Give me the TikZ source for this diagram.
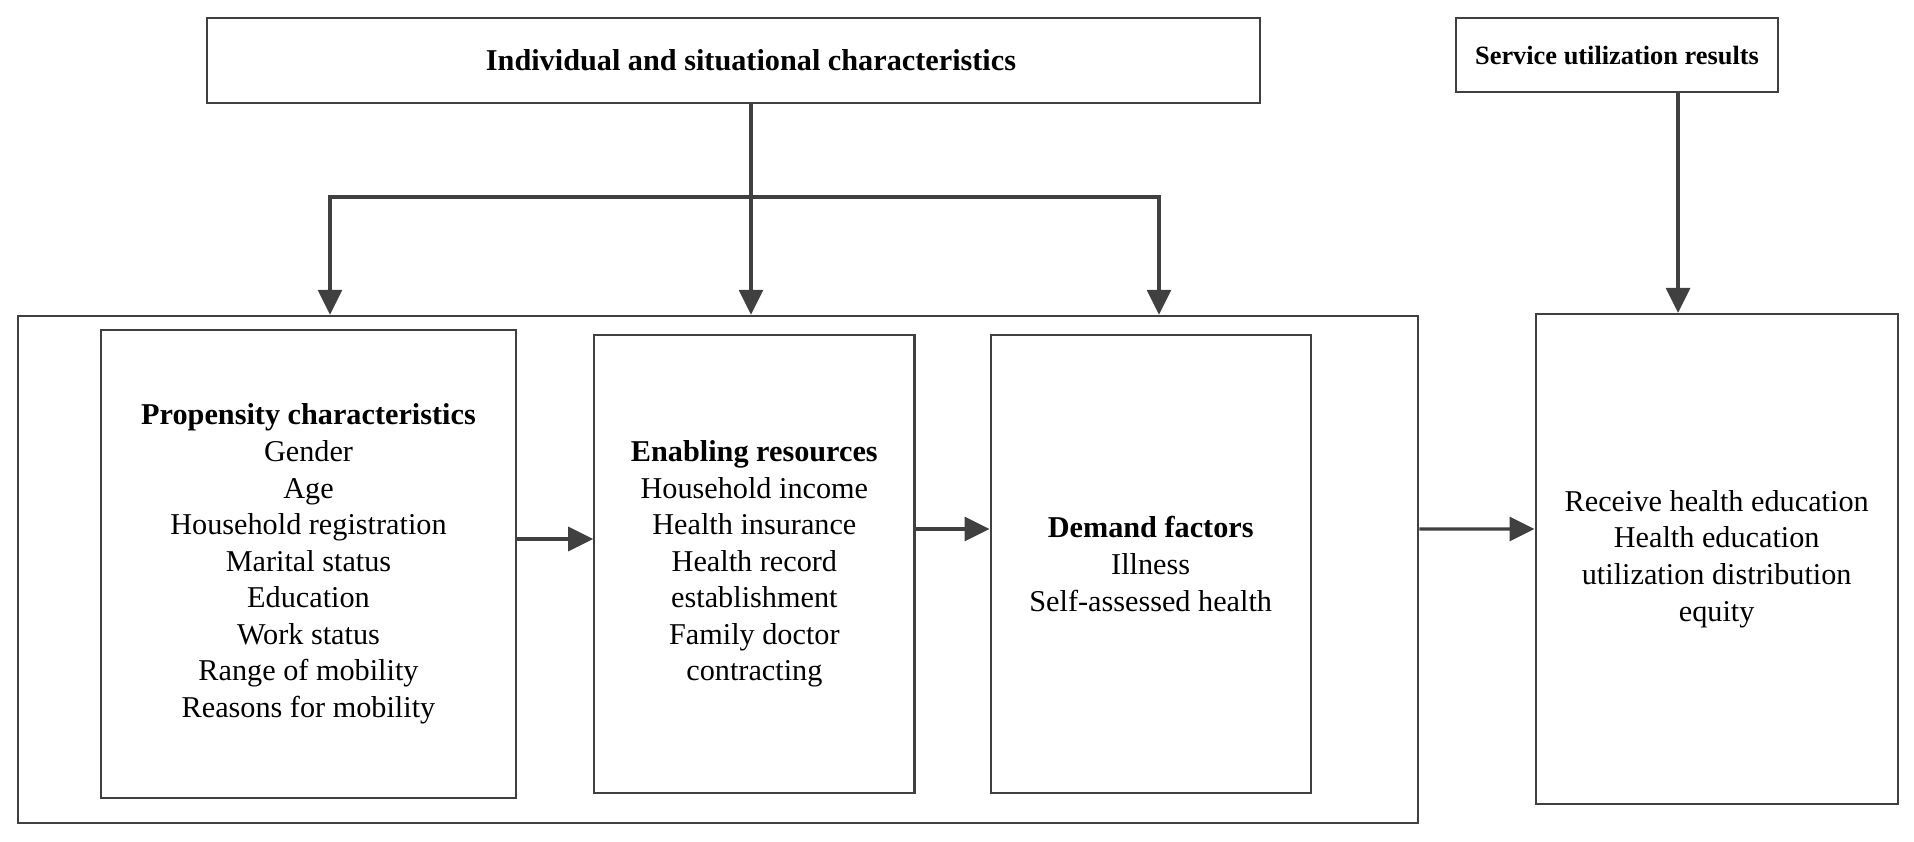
\documentclass[tikz,border=0pt]{standalone}
\usepackage{fontspec}
\setmainfont{Liberation Serif}
\usetikzlibrary{positioning, arrows.meta}
\definecolor{linegray}{HTML}{404040}
\newcommand{\boxfont}{\fontsize{8.6}{10.4}\selectfont}

\begin{document}
\begin{tikzpicture}[
    x=0.01cm, y=-0.01cm,
    box/.style={rectangle, draw=linegray, line width=0.6pt, align=center,
                font=\boxfont, inner sep=0pt},
    arrow/.style={->, >={Triangle[length=2.5mm, width=2.4mm]}, line width=0.9pt, color=linegray}
  ]
  \useasboundingbox (0,0) rectangle (1914,841);

  % top row
  \node[box, minimum width=10.53cm, minimum height=0.85cm] (indiv) at (733.5,60.5)
    {\hspace*{3.5mm}\textbf{Individual and situational characteristics}};
  \node[box, minimum width=3.22cm, minimum height=0.74cm, font=\fontsize{7.5}{9}\selectfont] (service) at (1617,55)
    {\textbf{Service utilization results}};

  % frame and the three groups inside it
  \node[box, minimum width=14cm, minimum height=5.07cm] (outer) at (718,569.5) {};
  \node[box, minimum width=4.15cm, minimum height=4.68cm] (prop) at (308.5,564)
    {\textbf{Propensity characteristics}\\Gender\\Age\\Household registration\\Marital status\\Education\\Work status\\Range of mobility\\Reasons for mobility};
  \node[box, minimum width=3.2cm, minimum height=4.58cm, right=0.76cm of prop] (enab)
    {\textbf{Enabling resources}\\Household income\\Health insurance\\Health record\\establishment\\Family doctor\\contracting};
  \node[box, minimum width=3.2cm, minimum height=4.58cm, right=0.74cm of enab] (demand)
    {\textbf{Demand factors}\\Illness\\Self-assessed health};
  \node[box, minimum width=3.62cm, minimum height=4.9cm, right=1.15cm of outer, yshift=1.05mm] (result)
    {Receive health education\\Health education\\utilization distribution\\equity};

  % branching from the top box
  \coordinate (split) at (751,197);
  \coordinate (splitL) at (330,197);
  \coordinate (splitR) at (1159,197);
  \draw[arrow] (indiv.south -| split) -- (outer.north -| split);
  \draw[arrow] (split) -| (outer.north -| splitL);
  \draw[arrow] (split) -| (outer.north -| splitR);

  % results column
  \draw[arrow] ([xshift=6.1mm]service.south) -- ([xshift=6.1mm]service.south |- result.north);

  % left to right
  \draw[arrow] ([yshift=2.5mm]prop.east) -- ([yshift=2.5mm]enab.west);
  \draw[arrow] ([yshift=3.5mm]enab.east) -- ([yshift=3.5mm]demand.west);
  \draw[arrow] ([yshift=4.05mm]outer.east) -- ([yshift=3mm]result.west);
\end{tikzpicture}
\end{document}
